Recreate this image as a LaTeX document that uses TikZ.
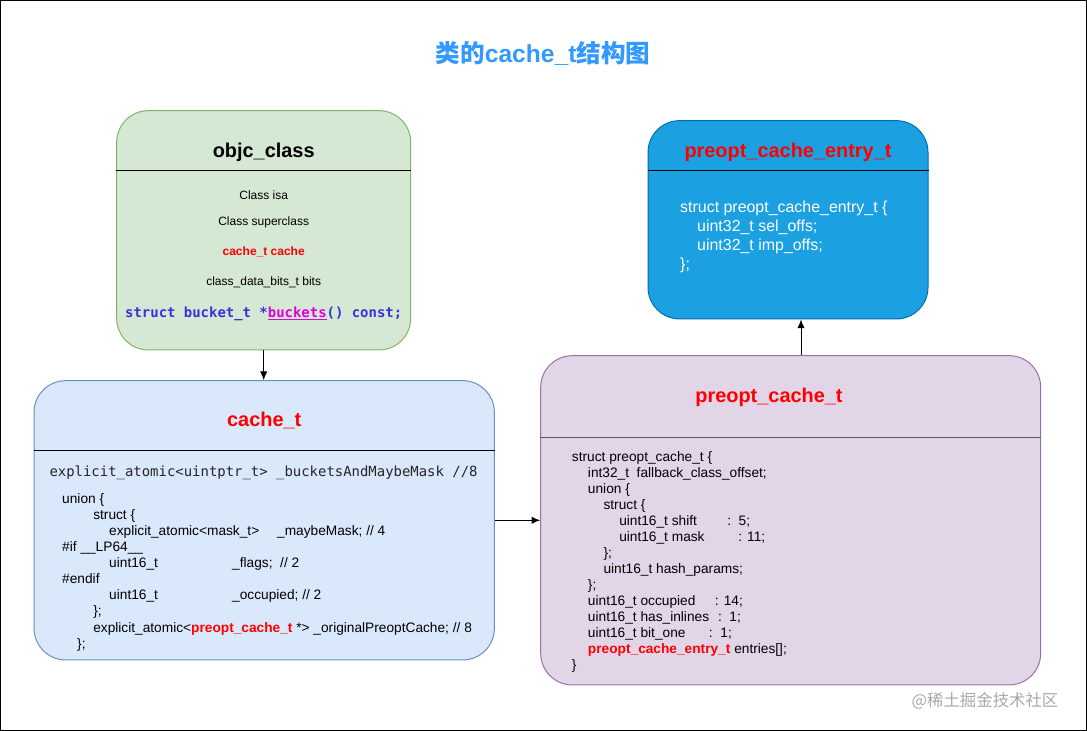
\documentclass[tikz,border=0pt]{standalone}
\usepackage{fontspec}
\setmainfont{Liberation Sans}
\setmonofont{DejaVu Sans Mono}
\newfontfamily\cjkfont{Noto Sans CJK SC}
\usepackage{tikz}
\usetikzlibrary{arrows.meta}
\usetikzlibrary{positioning}
\definecolor{objcfill}{HTML}{D5E8D4}
\definecolor{objcdraw}{HTML}{82B366}
\definecolor{cachefill}{HTML}{DAE8FC}
\definecolor{cachedraw}{HTML}{6C8EBF}
\definecolor{preoptfill}{HTML}{E1D5E7}
\definecolor{preoptdraw}{HTML}{9673A6}
\definecolor{entryfill}{HTML}{1BA1E2}
\definecolor{entrydraw}{HTML}{006EAF}
\definecolor{titleblue}{HTML}{3399FF}
\definecolor{monoblue}{HTML}{3333DD}
\definecolor{linkpink}{HTML}{DD00DD}
\definecolor{markgray}{HTML}{A8A8A8}
\colorlet{keyred}{red}
\newcommand{\ind}[1]{\hspace*{#1pt}}

\begin{document}
\begin{tikzpicture}[
x=0.03cm, y=-0.03cm,
MyBox/.style 2 args={draw, line width=0.85pt, rounded corners=0.95cm,
  minimum width=#1*0.03cm, minimum height=#2*0.03cm, inner sep=0},
Divider/.style={line width=0.85pt},
MyArrow/.style={-{Latex[length=2.6mm, width=2.2mm]}, line width=0.85pt},
HeadText/.style={anchor=base, inner sep=0, font=\fontsize{17}{20}\selectfont\bfseries},
LineText/.style={anchor=base, inner sep=0, font=\fontsize{10.25}{12}\selectfont},
CodeText/.style={anchor=base west, align=left, inner sep=0, font=\fontsize{11.7}{13.66}\selectfont}
]
\useasboundingbox (0,0) rectangle (1087,731);
\draw[line width=0.85pt] (0.5,0.5) rectangle (1086.5,730.5);

% title
\node[anchor=base, inner sep=0, text=titleblue, font=\fontsize{21}{24}\selectfont\bfseries]
  (title) at (543,63) {{\cjkfont 类的}cache\_t{\cjkfont 结构图}};

% the four boxes
\node[MyBox={294}{239.3}, fill=objcfill, draw=objcdraw] (objc) at (263.7,230.3) {};
\node[MyBox={280}{198.3}, fill=entryfill, draw=entrydraw] (entry) at (788,219.8) {};
\node[MyBox={460.3}{279.3}, fill=cachefill, draw=cachedraw] (cache) at (264.2,520.3) {};
\node[MyBox={500}{329.3}, fill=preoptfill, draw=preoptdraw] (preopt) at (790.7,520.3) {};

\draw[Divider] (objc.west |- 0,170) -- (objc.east |- 0,170);
\draw[Divider] (entry.west |- 0,170) -- (entry.east |- 0,170);
\draw[Divider] (cache.west |- 0,450.7) -- (cache.east |- 0,450.7);
\draw[Divider, draw=black!65] (preopt.west |- 0,437.7) -- (preopt.east |- 0,437.7);

% objc_class
\node[HeadText] (objcHead) at (263.7,157.3) {objc\_class};
\node[LineText] (objcIsa) at (263.7,199.3) {Class isa};
\node[LineText] (objcSuper) at (263.7,225) {Class superclass};
\node[LineText, text=keyred, font=\fontsize{10.25}{12}\selectfont\bfseries] (objcCache) at (263.7,255.7) {cache\_t cache};
\node[LineText] (objcBits) at (263.7,285.7) {class\_data\_bits\_t bits};
\node[anchor=base, inner sep=0, font=\fontsize{11.9}{14}\selectfont\ttfamily\bfseries] (objcBuckets) at (263.7,317.3)
  {\textcolor{monoblue}{struct bucket\_t *}\textcolor{linkpink}{\underline{buckets}}\textcolor{monoblue}{() const;}};

% preopt_cache_entry_t (multi-line text sits on its last line)
\node[HeadText, text=keyred] (entryHead) at (788,157.3) {preopt\_cache\_entry\_t};
\node[CodeText, text=white, font=\fontsize{13.6}{16.2}\selectfont] (entryBody) at (680,269.3)
  {struct preopt\_cache\_entry\_t \{\\
  \ind{14.5}uint32\_t sel\_offs;\\
  \ind{14.5}uint32\_t imp\_offs;\\
  \};};

% cache_t
\node[HeadText, text=keyred] (cacheHead) at (264.2,426.7) {cache\_t};
\node[anchor=base west, inner sep=0, text=black!85, font=\fontsize{11.9}{14}\selectfont\ttfamily] (cacheMask) at (49.3,476.7)
  {explicit\_atomic<uintptr\_t> \_bucketsAndMaybeMask //8};
\node[CodeText] (cacheBody) at (62,648)
  {union \{\\
  \ind{26.5}struct \{\\
  \ind{40.1}\makebox[143.4pt][l]{explicit\_atomic<mask\_t>}\_maybeMask; // 4\\
  \#if \_\_LP64\_\_\\
  \ind{40.1}\makebox[105pt][l]{uint16\_t}\_flags;~~// 2\\
  \#endif\\
  \ind{40.1}\makebox[105pt][l]{uint16\_t}\_occupied; // 2\\
  \ind{26.5}\};\\
  \ind{26.5}explicit\_atomic<\textcolor{keyred}{\bfseries preopt\_cache\_t} *> \_originalPreoptCache; // 8\\
  \ind{12.8}\};};

% preopt_cache_t
\node[HeadText, text=keyred] (preoptHead) at (769,402.3) {preopt\_cache\_t};
\node[CodeText] (preoptBody) at (571.7,669.7)
  {struct preopt\_cache\_t \{\\
  \ind{13.7}int32\_t~~fallback\_class\_offset;\\
  \ind{13.7}union \{\\
  \ind{27}struct \{\\
  \ind{40.4}\makebox[92.2pt][l]{uint16\_t shift}:~~5;\\
  \ind{40.4}\makebox[101.6pt][l]{uint16\_t mask}: 11;\\
  \ind{27}\};\\
  \ind{27}uint16\_t hash\_params;\\
  \ind{13.7}\};\\
  \ind{13.7}\makebox[108.4pt][l]{uint16\_t occupied}: 14;\\
  \ind{13.7}\makebox[111pt][l]{uint16\_t has\_inlines}:~~1;\\
  \ind{13.7}\makebox[103.3pt][l]{uint16\_t bit\_one}:~~1;\\
  \ind{13.7}\textcolor{keyred}{\bfseries preopt\_cache\_entry\_t} entries[];\\
  \}};

% connectors
\draw[MyArrow] (objc.south) -- (objc.south |- cache.north);
\draw[MyArrow] (cache.east) -- (preopt.west);
\draw[MyArrow] (preopt.north -| 801,0) -- (entry.south -| 801,0);

% watermark
\node[anchor=base, inner sep=0, text=markgray, font=\fontsize{14}{16}\selectfont\cjkfont] (mark) at (985,706) {@稀土掘金技术社区};
\end{tikzpicture}
\end{document}
